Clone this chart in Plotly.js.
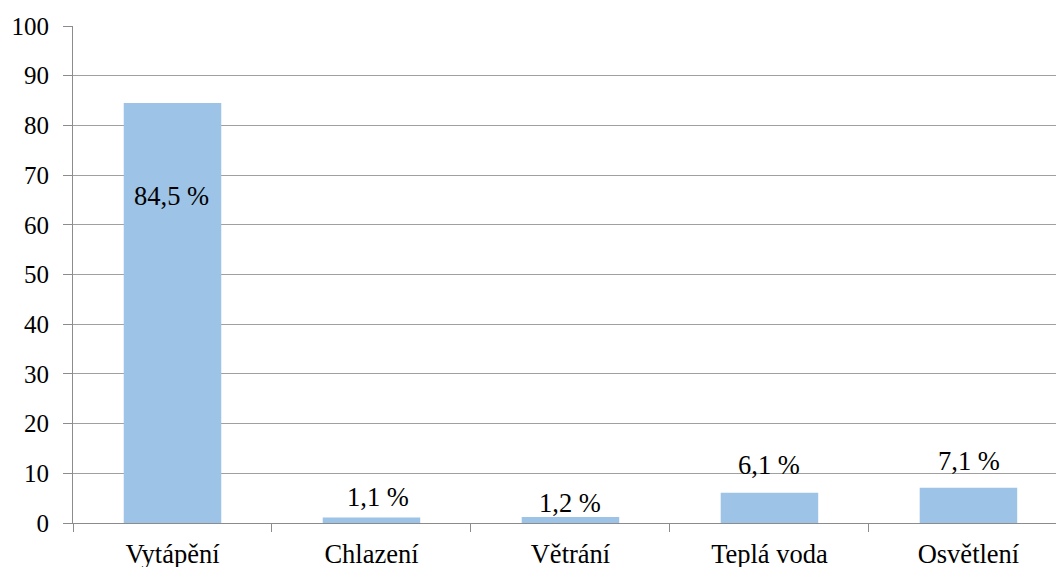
<!DOCTYPE html>
<html>
<head>
<meta charset="utf-8">
<script src="https://cdn.plot.ly/plotly-3.0.1.min.js"></script>
<style>
  html, body { margin: 0; padding: 0; background: #fff; }
  #chart { width: 1056px; height: 567px; }
</style>
</head>
<body>
<div id="chart"></div>
<script>
// Energy use shares by purpose (%)
const categories = ['Vytápění', 'Chlazení', 'Větrání', 'Teplá voda', 'Osvětlení'];
const shares = [84.5, 1.1, 1.2, 6.1, 7.1];
const shareLabels = ['84,5 %', '1,1 %', '1,2 %', '6,1 %', '7,1 %'];

// Pixel offsets of each value label relative to its bar top
const labelDx = [-1, 7, 0, 0, 1];
const labelDy = [-93, 21, 14, 28, 27];

const axisGray = '#8c8c8c';
const gridGray = '#a0a0a0';
const serif = 'Liberation Serif';

const trace = {
  type: 'bar',
  x: categories,
  y: shares,
  marker: { color: '#9dc3e6', line: { width: 0 } },
  hoverinfo: 'none'
};

const annotations = categories.map((c, i) => ({
  x: c,
  y: shares[i],
  xref: 'x',
  yref: 'y',
  text: shareLabels[i],
  showarrow: false,
  xanchor: 'center',
  yanchor: 'middle',
  xshift: labelDx[i],
  yshift: labelDy[i],
  font: { family: serif, size: 26.5, color: '#000' }
}));

const layout = {
  width: 1056,
  height: 567,
  margin: { l: 73, r: 0, t: 26, b: 44, pad: 0 },
  paper_bgcolor: '#fff',
  plot_bgcolor: '#fff',
  showlegend: false,
  bargap: 0.51,
  font: { family: serif, size: 25, color: '#000' },
  xaxis: {
    type: 'category',
    range: [-0.5, 4.44],
    showline: true,
    linecolor: axisGray,
    linewidth: 1,
    ticks: 'outside',
    tickson: 'boundaries',
    ticklen: 8,
    tickcolor: axisGray,
    showgrid: false,
    tickfont: { family: serif, size: 26.5, color: '#000' },
    ticklabelstandoff: 7,
    fixedrange: true
  },
  yaxis: {
    range: [0, 100],
    dtick: 10,
    tick0: 0,
    showline: true,
    linecolor: axisGray,
    linewidth: 1,
    ticks: 'outside',
    ticklen: 9,
    tickcolor: axisGray,
    showgrid: true,
    gridcolor: gridGray,
    gridwidth: 1,
    zeroline: false,
    tickfont: { family: serif, size: 25, color: '#000' },
    ticklabelstandoff: 9,
    fixedrange: true
  },
  annotations: annotations
};

Plotly.newPlot('chart', [trace], layout, { staticPlot: true, displayModeBar: false });
</script>
</body>
</html>
